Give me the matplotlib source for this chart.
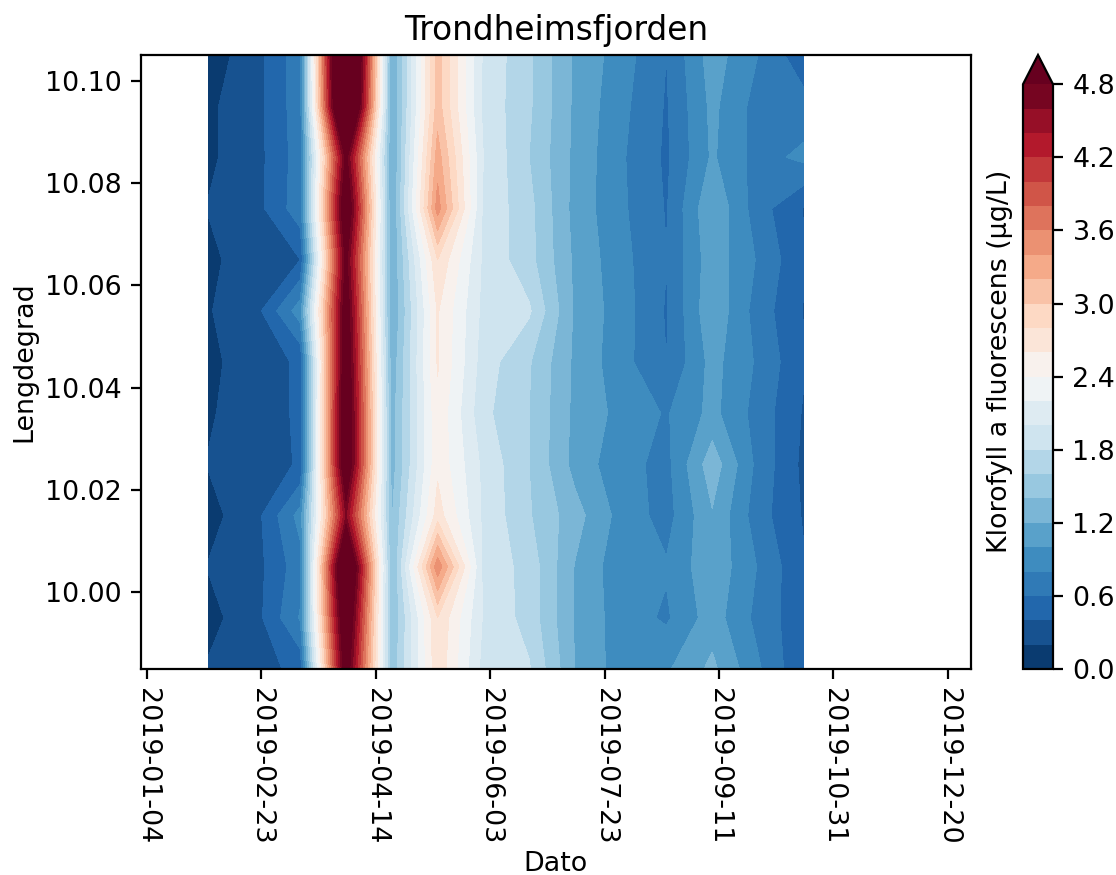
import numpy as np
import pandas as pd
import matplotlib
matplotlib.use("Agg")
import matplotlib.pyplot as plt
import matplotlib.dates as mdates

W, H, DPI = 1116, 875, 200
plt.rcParams["font.size"] = 9.7

latitudes = [9.985, 9.995, 10.005, 10.015, 10.025, 10.035, 10.045,
             10.055, 10.065, 10.075, 10.085, 10.095, 10.105]
dates = ["2019-01-31", "2019-02-20", "2019-03-12", "2019-04-01", "2019-04-21",
         "2019-05-11", "2019-05-31", "2019-06-20", "2019-07-10", "2019-07-30",
         "2019-08-19", "2019-09-08", "2019-09-28", "2019-10-18"]

d00 = [.22, .145, .21, .145, .21, .18, .155, .19, .155, .21, .17, .17, .10]
d01 = [.31, .31, .31, .31, .30, .30, .30, .31, .31, .31, .31, .31, .31]
d02 = [.46, .82, .72, .88, .42, .43, .43, .91, .40, .72, .70, .72, .72]
d03 = [5.1, 5.4, 5.8, 4.6, 5.3, 5.3, 5.2, 5.1, 4.9, 5.3, 4.9, 6.4, 6.6]
d04 = [1.45, 1.38, 1.35, 1.38, 1.30, 1.30, 1.25, 1.18, 1.20, 1.15, 1.15, 1.15, 1.15]
d05 = [2.75, 2.80, 3.55, 2.70, 2.55, 2.55, 2.62, 2.62, 2.80, 3.50, 3.30, 3.10, 3.10]
d06 = [1.93, 1.98, 1.95, 1.96, 1.95, 1.85, 1.90, 1.94, 1.96, 1.96, 2.00, 1.95, 1.97]
d07 = [1.82, 1.72, 1.72, 1.62, 1.60, 1.60, 1.62, 1.83, 1.67, 1.665, 1.60, 1.63, 1.63]
d08 = [1.20, 1.18, 1.19, 1.28, 1.13, 1.15, 1.16, 1.17, 1.16, 1.13, 1.15, 1.16, 1.17]
d09 = [.90, .90, .87, .93, .87, .94, .88, .90, .87, .84, .83, .86, .90]
d10 = [.97, .77, .82, .72, .74, .78, .60, .58, .605, .585, .565, .58, .60]
d11 = [1.25, 1.10, 1.15, 1.18, 1.32, 1.06, 1.07, 1.16, 1.12, 1.18, 1.03, 1.05, 1.10]
d12 = [.83, .74, .79, .69, .74, .72, .77, .71, .78, .69, .72, .72, .80]
d13 = [.42, .45, .42, .38, .35, .38, .42, .39, .42, .39, .85, .68, .46]
columns = [d00, d01, d02, d03, d04, d05, d06, d07, d08, d09, d10, d11, d12, d13]

tick_dates = ["2019-01-04", "2019-02-23", "2019-04-14", "2019-06-03",
              "2019-07-23", "2019-09-11", "2019-10-31", "2019-12-20"]
lat_ticks = [10.00, 10.02, 10.04, 10.06, 10.08, 10.10]
cbar_ticks = [0.0, 0.6, 1.2, 1.8, 2.4, 3.0, 3.6, 4.2, 4.8]
levels = np.arange(0, 4.81, 0.2)

x = mdates.date2num(pd.to_datetime(dates))
z = np.array(columns).T
xt = mdates.date2num(pd.to_datetime(tick_dates))

fig = plt.figure(figsize=(W / DPI, H / DPI), dpi=DPI)
ax = fig.add_axes([141 / W, (H - 669) / H, 830 / W, 614 / H])
cf = ax.contourf(x, latitudes, z, levels=levels, cmap="RdBu_r", extend="max")
ax.set_xlim(xt[0] - 2.6, xt[0] + 360.1)
ax.set_ylim(9.985, 10.105)
ax.set_xticks(xt)
ax.set_xticklabels(tick_dates, rotation=-90)
ax.set_yticks(lat_ticks)
ax.set_yticklabels([f"{v:.2f}" for v in lat_ticks])
ax.set_xlabel("Dato", labelpad=2.2)
ax.set_ylabel("Lengdegrad", labelpad=2.5)
ax.set_title("Trondheimsfjorden", pad=5.5, fontsize=11.8)

cax = fig.add_axes([1023 / W, (H - 669) / H, 30 / W, 614 / H])
cb = fig.colorbar(cf, cax=cax, ticks=cbar_ticks)
cb.ax.set_yticklabels([f"{v:.1f}" for v in cbar_ticks])
cb.set_label("Klorofyll a fluorescens (µg/L)", labelpad=3.5)
cb.ax.yaxis.set_label_position("left")
cb.ax.yaxis.label.set_y(0.526)

fig.savefig("out.png", dpi=DPI)
